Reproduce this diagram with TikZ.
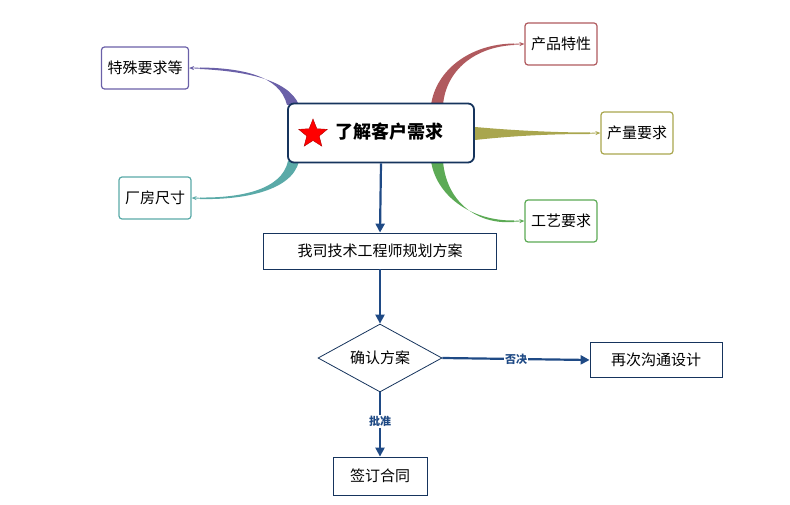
\documentclass[tikz,border=0pt]{standalone}
\usepackage{fontspec}
\setmainfont{Noto Sans CJK SC}
\usetikzlibrary{shapes.geometric,arrows.meta}
\definecolor{dblue}{HTML}{1F4A85}
\definecolor{cpur}{HTML}{6A60A8}
\definecolor{cred}{HTML}{B05A5E}
\definecolor{coli}{HTML}{A9A64E}
\definecolor{cgrn}{HTML}{5CAA55}
\definecolor{ctea}{HTML}{5AAAA8}
\begin{document}
\begin{tikzpicture}[x=1pt,y=-1pt,
  leaf/.style={draw=#1,line width=1.2pt,rounded corners=3pt,fill=white,minimum height=42pt,inner xsep=6pt,font=\fontsize{15}{18}\selectfont},
  box/.style={draw=dblue!70!black,line width=0.8pt,fill=white,font=\fontsize{15}{18}\selectfont,inner xsep=8pt},
  flow/.style={draw=dblue,line width=2.2pt,-{Triangle[length=9pt,width=9pt]}},
  thin/.style={draw=#1,line width=0.8pt,-{Stealth[length=5pt,width=4pt]}},
  lab/.style={fill=white,text=dblue,font=\bfseries\fontsize{11}{13}\selectfont,inner sep=1pt}]
\useasboundingbox (0,0) rectangle (790,505);
% tapered branches
\fill[cpur] (287,105) .. controls (280,75) and (240,68) .. (200,67.5) -- (200,69) .. controls (240,71) and (288,78) .. (299,105) -- cycle;
\fill[ctea] (288,161) .. controls (282,190) and (240,198) .. (200,197.5) -- (200,199) .. controls (240,200) and (292,192) .. (299,161) -- cycle;
\fill[cred] (431,105) .. controls (436,70) and (470,44) .. (514,43.5) -- (514,45) .. controls (475,47) and (446,70) .. (443,105) -- cycle;
\fill[coli] (475,127) .. controls (520,131) and (560,132.5) .. (590,132.5) -- (590,134) .. controls (560,134) and (520,135) .. (475,140) -- cycle;
\fill[cgrn] (431,161) .. controls (436,195) and (470,221) .. (514,220.5) -- (514,222) .. controls (475,225) and (446,200) .. (443,161) -- cycle;
% nodes
\node[draw=dblue!70!black,line width=1.8pt,rounded corners=6pt,fill=white,minimum width=186pt,minimum height=59pt] (c) at (381,133) {};
\node[star,star points=5,star point ratio=2.3,fill=red,draw=red!70!black,minimum size=30pt,inner sep=0pt] (st) at (313,134) {};
\node[font=\bfseries\fontsize{18}{21}\selectfont,anchor=west] (ct) at (332,132) {了解客户需求};
\node[leaf=cpur] (a) at (145,68) {特殊要求等};
\node[leaf=ctea] (b) at (155,198) {厂房尺寸};
\node[leaf=cred] (p) at (561,44) {产品特性};
\node[leaf=coli] (q) at (637,133) {产量要求};
\node[leaf=cgrn] (g) at (561,221) {工艺要求};
\node[box,minimum width=233pt,minimum height=36pt] (w) at (380,251) {我司技术工程师规划方案};
\node[diamond,aspect=1.8,draw=dblue!70!black,line width=0.8pt,fill=white,minimum width=124pt,minimum height=68pt,inner sep=0pt,font=\fontsize{15}{18}\selectfont] (d) at (380,358) {确认方案};
\node[box,minimum width=132pt,minimum height=35pt] (r) at (656,360) {再次沟通设计};
\node[box,minimum width=94pt,minimum height=38pt] (s) at (380,476) {签订合同};
% thin arrow ends
\draw[thin=cpur] (201,68.2) -- (a.east);
\draw[thin=ctea] (201,198.2) -- (b.east);
\draw[thin=cred] (513,44.2) -- (p.west);
\draw[thin=coli] (589,133.2) -- (q.west);
\draw[thin=cgrn] (513,221.2) -- (g.west);
% flow
\draw[flow] (c.south) -- (w.north);
\draw[flow] (w.south) -- (d.north);
\draw[flow] (d.south) -- node[lab,pos=0.45]{批准} (s.north);
\draw[flow] (d.east) -- node[lab,pos=0.5]{否决} (r.west);
\end{tikzpicture}
\end{document}
